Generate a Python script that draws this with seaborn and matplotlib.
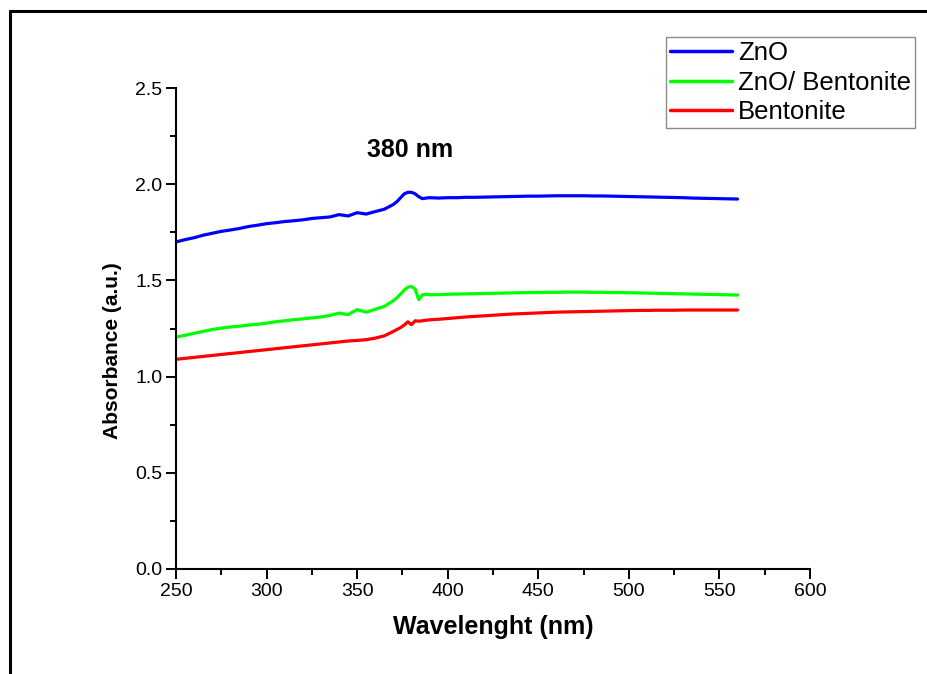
import numpy as np
import pandas as pd
import matplotlib
matplotlib.use("Agg")
import matplotlib.pyplot as plt
from matplotlib.lines import Line2D
from matplotlib.ticker import MultipleLocator, FormatStrFormatter
import seaborn as sns

wavelength = [250, 255, 260, 265, 270, 275, 280, 285, 290, 295, 300, 305, 310, 315, 320,
              325, 330, 335, 340, 345, 350, 355, 360, 365, 370,
              372, 374, 376, 378, 380, 382, 384, 386, 388, 390,
              395, 400, 405, 410, 415, 420, 425, 430, 435, 440, 445, 450, 455, 460, 465,
              470, 475, 480, 485, 490, 495, 500, 505, 510, 515, 520, 525, 530, 535, 540,
              545, 550, 555, 560]

zno = [1.700, 1.712, 1.722, 1.735, 1.745, 1.755, 1.762, 1.770, 1.780, 1.787, 1.795, 1.800,
       1.806, 1.810, 1.815, 1.822, 1.826, 1.830, 1.842, 1.835, 1.852, 1.845, 1.858, 1.870,
       1.895, 1.910, 1.930, 1.950, 1.958, 1.958, 1.950, 1.935, 1.925, 1.928, 1.930,
       1.928, 1.930, 1.930, 1.932, 1.932, 1.933, 1.934, 1.935, 1.936, 1.937, 1.938, 1.938,
       1.939, 1.940, 1.940, 1.940, 1.940, 1.939, 1.939, 1.938, 1.937, 1.936, 1.935, 1.934,
       1.933, 1.932, 1.931, 1.930, 1.928, 1.927, 1.926, 1.925, 1.924, 1.923]

zno_bentonite = [1.205, 1.215, 1.225, 1.235, 1.245, 1.252, 1.258, 1.262, 1.268, 1.272, 1.278,
                 1.285, 1.290, 1.296, 1.300, 1.305, 1.310, 1.318, 1.330, 1.322, 1.348, 1.335,
                 1.350, 1.365, 1.395, 1.410, 1.430, 1.450, 1.465, 1.468, 1.455, 1.400, 1.425,
                 1.428, 1.425, 1.426, 1.428, 1.429, 1.430, 1.431, 1.432, 1.433, 1.434, 1.435,
                 1.436, 1.437, 1.437, 1.438, 1.438, 1.439, 1.439, 1.439, 1.438, 1.438, 1.437,
                 1.437, 1.436, 1.435, 1.434, 1.433, 1.432, 1.431, 1.430, 1.429, 1.428, 1.427,
                 1.426, 1.425, 1.424]

bentonite = [1.090, 1.095, 1.100, 1.105, 1.110, 1.115, 1.120, 1.125, 1.130, 1.135, 1.140,
             1.145, 1.150, 1.155, 1.160, 1.165, 1.170, 1.175, 1.180, 1.185, 1.188, 1.192,
             1.200, 1.212, 1.235, 1.245, 1.255, 1.268, 1.285, 1.270, 1.290, 1.288, 1.290,
             1.293, 1.295, 1.298, 1.302, 1.306, 1.310, 1.313, 1.316, 1.319, 1.322, 1.325,
             1.327, 1.329, 1.331, 1.333, 1.335, 1.336, 1.337, 1.338, 1.339, 1.340, 1.341,
             1.342, 1.343, 1.344, 1.344, 1.345, 1.345, 1.345, 1.346, 1.346, 1.346, 1.346,
             1.346, 1.346, 1.346]

series_names = ["ZnO", "ZnO/ Bentonite", "Bentonite"]
colors = {"ZnO": "#0000FF", "ZnO/ Bentonite": "#00FF00", "Bentonite": "#FF0000"}

df = pd.concat([
    pd.DataFrame({"wl": wavelength, "abs": zno, "sample": "ZnO"}),
    pd.DataFrame({"wl": wavelength, "abs": zno_bentonite, "sample": "ZnO/ Bentonite"}),
    pd.DataFrame({"wl": wavelength, "abs": bentonite, "sample": "Bentonite"}),
])

sns.set_style("ticks")
plt.rcParams["font.family"] = ["Liberation Sans", "DejaVu Sans"]
plt.rcParams["text.color"] = "black"
plt.rcParams["axes.labelcolor"] = "black"

fig = plt.figure(figsize=(9.27, 6.74), dpi=100)
ax = fig.add_axes([0.1899, 0.1558, 0.6839, 0.7136])

sns.lineplot(data=df, x="wl", y="abs", hue="sample", hue_order=series_names,
             palette=colors, linewidth=2.3, ax=ax, sort=False, legend=False)

ax.set_xlim(250, 600)
ax.set_ylim(0, 2.5)
ax.xaxis.set_major_locator(MultipleLocator(50))
ax.xaxis.set_minor_locator(MultipleLocator(25))
ax.yaxis.set_major_locator(MultipleLocator(0.5))
ax.yaxis.set_minor_locator(MultipleLocator(0.25))
ax.yaxis.set_major_formatter(FormatStrFormatter("%.1f"))

for s in ["top", "right"]:
    ax.spines[s].set_visible(False)
for s in ["left", "bottom"]:
    ax.spines[s].set_linewidth(1.5)
    ax.spines[s].set_color("black")

ax.tick_params(which="major", direction="out", length=7, width=1.4, labelsize=14,
               colors="black", pad=3)
ax.tick_params(which="minor", direction="out", length=4, width=1.4, colors="black")

ax.set_xlabel("Wavelenght (nm)", fontsize=18, fontweight="bold", labelpad=11, color="black")
ax.set_ylabel("Absorbance (a.u.)", fontsize=15, fontweight="bold", color="black")
ax.yaxis.set_label_coords(-0.086, 0.455)

ax.text(379, 2.18, "380 nm", fontsize=18, fontweight="bold", ha="center", va="center",
        color="black")

handles = [Line2D([0], [0], color=colors[n], lw=2.5) for n in series_names]
leg = fig.legend(handles, series_names, loc="upper right",
                 bbox_to_anchor=(915 / 927, 1 - 37 / 674), bbox_transform=fig.transFigure,
                 borderaxespad=0, fontsize=18.5, frameon=True, fancybox=False,
                 handlelength=2.4, handletextpad=0.25, labelspacing=0.22, borderpad=0.15)
leg.get_frame().set_edgecolor("#707070")
leg.get_frame().set_linewidth(1.0)
for t in leg.get_texts():
    t.set_color("black")

fig.add_artist(Line2D([10 / 927, 10 / 927], [0, 1 - 11 / 674], transform=fig.transFigure,
                      color="black", lw=2.2))
fig.add_artist(Line2D([10 / 927, 1], [1 - 11 / 674, 1 - 11 / 674], transform=fig.transFigure,
                      color="black", lw=2.2))

fig.savefig("out.png", dpi=100)
